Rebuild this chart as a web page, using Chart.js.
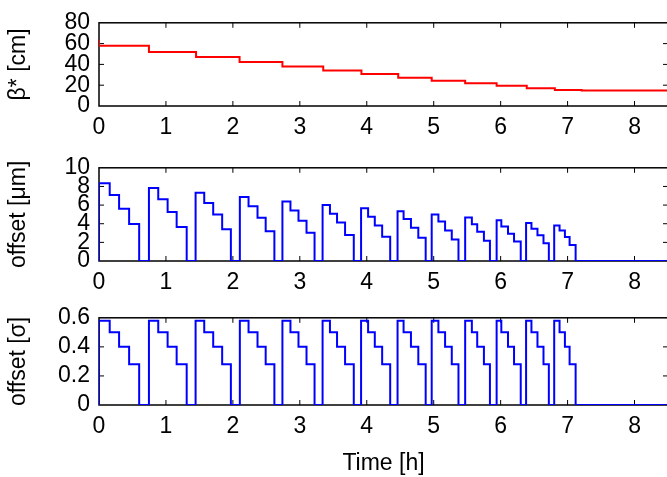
<!DOCTYPE html>
<html>
<head>
<meta charset="utf-8">
<script src="https://cdn.jsdelivr.net/npm/chart.js@4.4.1/dist/chart.umd.min.js"></script>
<style>
  html, body { margin: 0; padding: 0; background: #fff; }
  #wrap { position: relative; width: 667px; height: 477px; overflow: hidden; }
  #wrap canvas { position: absolute; left: 0; }
</style>
</head>
<body>
<div id="wrap">
  <canvas id="cBeta" width="670" height="145" style="top:0"></canvas>
  <canvas id="cUm" width="670" height="150" style="top:145px"></canvas>
  <canvas id="cSig" width="670" height="182" style="top:295px"></canvas>
</div>
<script>
// ---- data ----
const X_MAX = 8.5;

// beta* steps: value holds from time t until the next time
const betaT = [0, 0, 0.746, 1.45, 2.10, 2.74, 3.35, 3.92, 4.47, 4.97, 5.47, 5.94, 6.39, 6.81, 7.21, 8.5];
const betaV = [64, 58, 52, 47, 42.2, 38, 34.2, 30.8, 27.2, 24.3, 21.9, 19.5, 17.1, 15.3, 15, 15];

// offset cycles: rise, three step-downs, drop to zero
const cycStart = [0, 0.746, 1.443, 2.104, 2.74, 3.34, 3.915, 4.46, 4.97, 5.47, 5.94, 6.38, 6.80];
const cycStep1 = [0.16, 0.885, 1.572, 2.234, 2.86, 3.45, 4.02, 4.55, 5.07, 5.57, 6.01, 6.46, 6.88];
const cycStep2 = [0.30, 1.025, 1.706, 2.368, 2.98, 3.556, 4.12, 4.66, 5.17, 5.65, 6.11, 6.55, 6.96];
const cycStep3 = [0.45, 1.16, 1.84, 2.49, 3.10, 3.676, 4.23, 4.77, 5.27, 5.75, 6.20, 6.64, 7.03];
const cycEnd   = [0.60, 1.31, 1.97, 2.62, 3.22, 3.806, 4.35, 4.88, 5.37, 5.84, 6.30, 6.72, 7.12];

// offset in um, level 1..4 of every cycle
const um1 = [8.35, 7.84, 7.32, 6.87, 6.39, 6.01, 5.67, 5.33, 4.98, 4.67, 4.36, 4.09, 3.81];
const um2 = [7.08, 6.63, 6.22, 5.88, 5.43, 5.08, 4.74, 4.50, 4.23, 3.95, 3.71, 3.47, 3.27];
const um3 = [5.60, 5.26, 4.98, 4.64, 4.33, 4.12, 3.81, 3.57, 3.27, 3.13, 2.92, 2.75, 2.58];
const um4 = [3.97, 3.64, 3.40, 3.20, 3.02, 2.78, 2.61, 2.50, 2.30, 2.16, 2.10, 1.90, 1.72];

// offset in sigma, same four levels in every cycle
const sigLevels = [0.58, 0.50, 0.40, 0.28];

const FONT = { family: '"Liberation Sans", Arial, sans-serif', size: 23 };
const TICK = 5;

function cyclePoints(levelFor) {
  const pts = [{ x: 0, y: 0 }];
  cycStart.forEach((t0, i) => {
    const lv = levelFor(i);
    pts.push({ x: t0, y: lv[0] }, { x: cycStep1[i], y: lv[1] },
             { x: cycStep2[i], y: lv[2] }, { x: cycStep3[i], y: lv[3] },
             { x: cycEnd[i], y: 0 });
  });
  pts.push({ x: X_MAX, y: 0 });
  return pts;
}

// gnuplot-like box with inward ticks on all four sides
const framePlugin = {
  id: 'frame',
  beforeDatasetsDraw(chart) {
    const { ctx, chartArea: a, scales: { x, y } } = chart;
    ctx.save();
    ctx.strokeStyle = '#000';
    ctx.lineWidth = 1;
    ctx.beginPath();
    x.ticks.forEach(t => {
      const px = x.getPixelForValue(t.value);
      if (px <= a.left + 1 || px >= a.right - 1) return;
      ctx.moveTo(px, a.bottom); ctx.lineTo(px, a.bottom - TICK);
      ctx.moveTo(px, a.top); ctx.lineTo(px, a.top + TICK);
    });
    y.ticks.forEach(t => {
      const py = y.getPixelForValue(t.value);
      if (py <= a.top + 1 || py >= a.bottom - 1) return;
      ctx.moveTo(a.left, py); ctx.lineTo(a.left + TICK, py);
      ctx.moveTo(a.right, py); ctx.lineTo(a.right - TICK, py);
    });
    ctx.stroke();
    ctx.lineWidth = 1.5;
    ctx.strokeRect(a.left, a.top, a.right - a.left, a.bottom - a.top);
    ctx.restore();
  }
};

function mkPanel(id, cfg) {
  return new Chart(document.getElementById(id), {
    type: 'line',
    data: { datasets: [{ data: cfg.points, borderColor: cfg.color, borderWidth: 2,
      stepped: 'before', pointRadius: 0, fill: false }] },
    options: {
      responsive: false, animation: false, devicePixelRatio: 1,
      layout: { padding: { top: cfg.top, right: 2, left: 0, bottom: 0 } },
      plugins: { legend: { display: false }, tooltip: { enabled: false } },
      scales: {
        x: {
          type: 'linear', min: 0, max: X_MAX,
          afterFit: s => { s.height = cfg.xH; },
          grid: { display: false, drawTicks: false }, border: { display: false },
          ticks: { stepSize: 1, includeBounds: false, padding: 8, color: '#000', font: FONT, maxRotation: 0 },
          title: cfg.xTitle ? { display: true, text: cfg.xTitle, color: '#000', font: FONT, padding: { top: 0, bottom: 0 } } : { display: false }
        },
        y: {
          min: cfg.yMin, max: cfg.yMax,
          afterFit: s => { s.width = 99; },
          grid: { display: false, drawTicks: false }, border: { display: false },
          ticks: { stepSize: cfg.yStep, autoSkip: false, padding: 9, color: '#000', font: FONT },
          title: { display: true, text: cfg.yTitle, color: '#000', font: FONT, padding: { top: 5, bottom: 0 } }
        }
      }
    },
    plugins: [framePlugin]
  });
}

mkPanel('cBeta', {
  points: betaT.map((t, i) => ({ x: t, y: betaV[i] })),
  color: '#ff0000', top: 17, xH: 39,
  yMin: 0, yMax: 80, yStep: 20, yTitle: 'β* [cm]'
});

mkPanel('cUm', {
  points: cyclePoints(i => [um1[i], um2[i], um3[i], um4[i]]),
  color: '#0000ff', top: 19, xH: 34,
  yMin: 0, yMax: 10, yStep: 2, yTitle: 'offset [μm]'
});

mkPanel('cSig', {
  points: cyclePoints(() => sigLevels),
  color: '#0000ff', top: 17, xH: 72,
  yMin: 0, yMax: 0.6, yStep: 0.2, yTitle: 'offset [σ]', xTitle: 'Time [h]'
});
</script>
</body>
</html>
